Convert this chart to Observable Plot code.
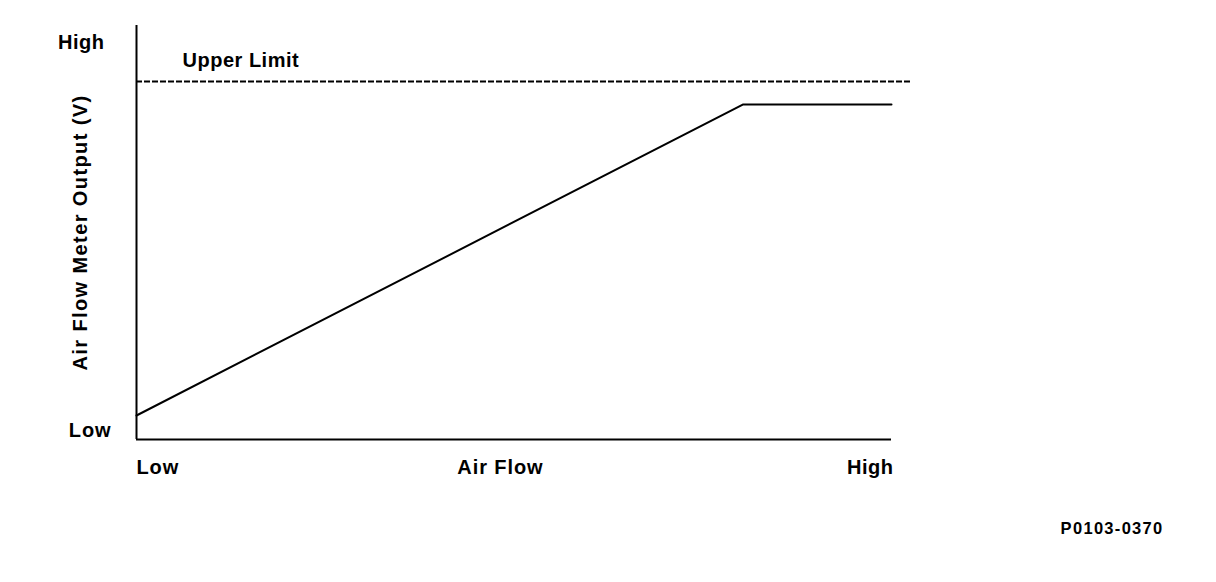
<!DOCTYPE html>
<html>
<head>
<meta charset="utf-8">
<script src="https://cdn.jsdelivr.net/npm/d3@7"></script>
<script src="https://cdn.jsdelivr.net/npm/@observablehq/plot@0.6"></script>
<style>
  html, body { margin: 0; padding: 0; background: #fff; }
  #chart svg { display: block; }
</style>
</head>
<body>
<div id="chart"></div>
<script>
// Data (relative units: 0 = Low, 100 = High)
const airFlow = [0, 80.3, 100];
const meterOutput = [5.8, 80.9, 80.9];
const upperLimit = [86.5];
const upperLimitLabel = ["Upper Limit"];
const xTickLabels = ["Low", "Air Flow", "High"];
const xTickValues = [0, 48.2, 100];
const yTickLabels = ["Low", "High"];
const yTickValues = [2.2, 95.9];
const yTitle = "Air Flow Meter Output (V)";
const figureCode = "P0103-0370";

const lineData = airFlow.map((x, i) => ({x, y: meterOutput[i]}));

const font = "'Liberation Sans', Arial, Helvetica, sans-serif";

const chart = Plot.plot({
  width: 1216,
  height: 582,
  marginLeft: 136,
  marginRight: 325,
  marginTop: 25,
  marginBottom: 143,
  x: {domain: [0, 100], axis: null},
  y: {domain: [0, 100], axis: null},
  style: {fontFamily: font, background: "#fff", color: "#000"},
  marks: [
    // axes lines
    Plot.ruleX([0], {y1: 0, y2: 100, stroke: "#000", strokeWidth: 2}),
    Plot.ruleY([0], {x1: 0, x2: 100, stroke: "#000", strokeWidth: 2}),
    // upper limit dashed line
    Plot.ruleY(upperLimit, {x1: 0, x2: 102.6, stroke: "#000", strokeWidth: 2, strokeDasharray: "6,2"}),
    Plot.text(upperLimitLabel, {x: 6.1, y: upperLimit[0], text: d => d, textAnchor: "start", dy: -21, fontSize: 20, fontWeight: "bold", fill: "#000"}),
    // response line
    Plot.line(lineData, {x: "x", y: "y", stroke: "#000", strokeWidth: 2}),
    // x labels
    Plot.text([0], {x: d => xTickValues[d], y: 0, text: d => xTickLabels[d], textAnchor: "start", dy: 28, fontSize: 20, fontWeight: "bold"}),
    Plot.text([1], {x: d => xTickValues[d], y: 0, text: d => xTickLabels[d], textAnchor: "middle", dy: 28, fontSize: 20, fontWeight: "bold"}),
    Plot.text([2], {x: d => xTickValues[d], y: 0, text: d => xTickLabels[d], textAnchor: "end", dy: 28, dx: 2, fontSize: 20, fontWeight: "bold"}),
    // y labels
    Plot.text([0], {x: 0, y: d => yTickValues[d], text: d => yTickLabels[d], textAnchor: "end", dx: -25, fontSize: 20, fontWeight: "bold"}),
    Plot.text([1], {x: 0, y: d => yTickValues[d], text: d => yTickLabels[d], textAnchor: "end", dx: -32, fontSize: 20, fontWeight: "bold"}),
    // y title
    Plot.text([yTitle], {x: 0, y: 50, text: d => d, rotate: -90, dx: -56, fontSize: 20, fontWeight: "bold"}),
    // figure code
    Plot.text([figureCode], {x: 122.4, y: -21.5, text: d => d, textAnchor: "start", fontSize: 16.5, fontWeight: "bold"})
  ]
});

// widen lettering to match the reference's broad sans face
d3.select(chart).selectAll("text").each(function() {
  const t = d3.select(this);
  const s = t.text();
  let ls = 0.9;
  if (s === yTitle) ls = 1.4;
  else if (s === figureCode) ls = 1.3;
  else if (s === upperLimitLabel[0] || s === "High") ls = 0.5;
  t.style("letter-spacing", ls + "px");
});

document.getElementById("chart").appendChild(chart);
</script>
</body>
</html>
